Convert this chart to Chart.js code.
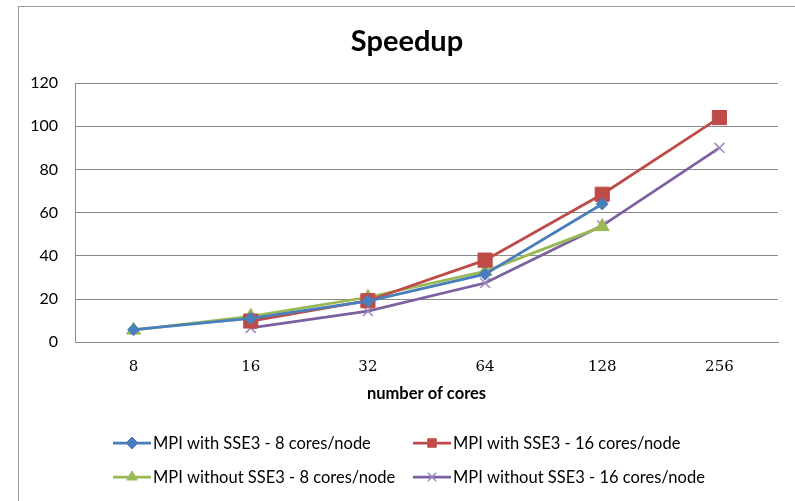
<!DOCTYPE html>
<html lang="en">
<head>
  <meta charset="UTF-8">
  <title>Speedup</title>
  <style>
    body {
      margin: 0;
      padding: 0;
      background: #ffffff;
      overflow: hidden;
    }

    .frame {
      position: absolute;
      left: 18px;
      top: 6px;
      width: 820px;
      height: 520px;
      border: 1px solid #9a9a9a;
    }

    .chart-box {
      position: absolute;
      left: 0;
      top: 0;
      width: 795px;
      height: 501px;
    }
  </style>
</head>
<body>
<div class="frame"></div>
<div class="chart-box">
  <canvas id="speedupChart" width="795" height="501"></canvas>
</div>

<script src="https://cdn.jsdelivr.net/npm/chart.js"></script>
<script>
  // data
  const cores = ['8', '16', '32', '64', '128', '256'];
  const sse8 = [5.8, 11, 19, 31.5, 64, null];
  const sse16 = [null, 9.8, 19.2, 38, 68.5, 104];
  const noSse8 = [5.6, 12, 20.8, 32.8, 53.5, null];
  const noSse16 = [null, 6.6, 14.4, 27.4, 54, 90];
  const yTicks = [0, 20, 40, 60, 80, 100, 120];

  const seriesNames = [
    'MPI with SSE3 - 8 cores/node',
    'MPI with SSE3 - 16 cores/node',
    'MPI without SSE3 - 8 cores/node',
    'MPI without SSE3 - 16 cores/node'
  ];

  const BLUE = '#4a7ebb';
  const RED = '#be4b48';
  const GREEN = '#98b954';
  const PURPLE = '#7d60a0';

  function series(label, data, color, style, radius, extra) {
    return Object.assign({
      label: label,
      data: data,
      borderColor: color,
      backgroundColor: color,
      pointBackgroundColor: color,
      pointBorderColor: color,
      borderWidth: 2.75,
      pointStyle: style,
      pointRadius: radius,
      pointHoverRadius: radius,
      pointBorderWidth: 1,
      tension: 0,
      spanGaps: false
    }, extra || {});
  }

  const datasets = [
    series(seriesNames[0], sse8, BLUE, 'rectRot', 6),
    series(seriesNames[1], sse16, RED, 'rect', 10),
    series(seriesNames[2], noSse8, GREEN, 'triangle', 8),
    series(seriesNames[3], noSse16, PURPLE, 'crossRot', 7, {
      pointBorderColor: '#9d86c0',
      pointBorderWidth: 1.5
    })
  ];

  // title sits centred on the frame, not on the canvas
  const titleShift = {
    id: 'titleShift',
    afterLayout(chart) {
      if (chart.titleBlock) {
        chart.titleBlock.left = 36;
      }
    }
  };

  // legend laid out in two columns like the original
  const gridLegend = {
    id: 'gridLegend',
    afterDraw(chart) {
      const ctx = chart.ctx;
      const cols = [113, 413];
      const rows = [443, 477];
      ctx.save();
      ctx.font = '16.5px Lato, "Open Sans", sans-serif';
      ctx.textBaseline = 'middle';
      ctx.textAlign = 'left';
      chart.data.datasets.forEach((ds, i) => {
        const x = cols[i % 2];
        const y = rows[Math.floor(i / 2)];
        ctx.strokeStyle = ds.borderColor;
        ctx.lineWidth = 2.75;
        ctx.beginPath();
        ctx.moveTo(x, y);
        ctx.lineTo(x + 38, y);
        ctx.stroke();
        ctx.fillStyle = ds.pointBackgroundColor;
        ctx.strokeStyle = ds.pointBorderColor;
        ctx.lineWidth = ds.pointBorderWidth;
        Chart.helpers.drawPoint(ctx, {
          pointStyle: ds.pointStyle,
          radius: Math.min(ds.pointRadius, 6),
          rotation: 0,
          borderWidth: ds.pointBorderWidth
        }, x + 19, y);
        ctx.fillStyle = '#000000';
        ctx.fillText(ds.label, x + 40, y + 1);
      });
      ctx.restore();
    }
  };

  const ctx = document.getElementById('speedupChart').getContext('2d');
  new Chart(ctx, {
    type: 'line',
    data: {
      labels: cores,
      datasets: datasets
    },
    plugins: [titleShift, gridLegend],
    options: {
      responsive: false,
      animation: false,
      layout: {
        padding: { left: 18, right: 17, top: 0, bottom: 93 }
      },
      plugins: {
        legend: { display: false },
        tooltip: { enabled: false },
        title: {
          display: true,
          text: 'Speedup',
          color: '#000000',
          font: { family: 'Lato, "Open Sans", sans-serif', size: 29, weight: 'bold' },
          padding: { top: 24.6, bottom: 23.6 }
        }
      },
      scales: {
        x: {
          offset: true,
          grid: { display: false, drawTicks: false, offset: true },
          border: { display: true, color: '#8a8a8a', width: 1 },
          ticks: {
            color: '#000000',
            padding: 16,
            maxRotation: 0,
            font: { family: '"DejaVu Serif", "Liberation Serif", serif', size: 15 }
          },
          title: {
            display: true,
            text: 'number of cores',
            color: '#000000',
            font: { family: 'Lato, "Open Sans", sans-serif', size: 16.5, weight: 'bold' },
            padding: { top: -8, bottom: 4 }
          }
        },
        y: {
          min: 0,
          max: 120,
          afterFit(scale) { scale.width = 57; },
          afterBuildTicks(scale) { scale.ticks = yTicks.map(v => ({ value: v })); },
          grid: { color: '#8a8a8a', lineWidth: 1, drawTicks: false },
          border: { display: true, color: '#8a8a8a', width: 1 },
          ticks: {
            color: '#000000',
            padding: 17,
            font: { family: 'Lato, "Open Sans", sans-serif', size: 16 }
          }
        }
      }
    }
  });
</script>
</body>
</html>
